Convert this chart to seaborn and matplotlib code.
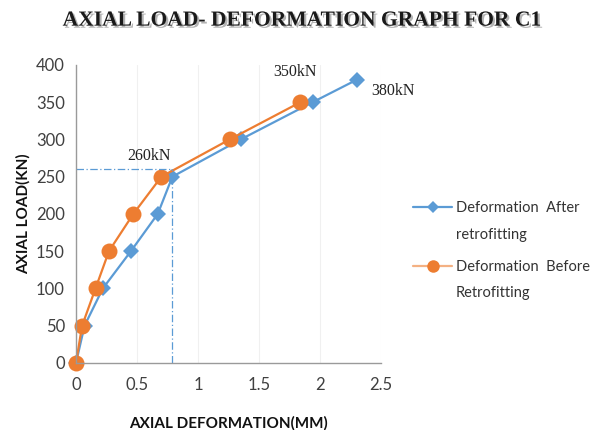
import matplotlib
matplotlib.use("Agg")
import matplotlib.pyplot as plt
import matplotlib.patheffects as pe
import seaborn as sns
import pandas as pd

# Load-deformation readings for column C1
load_after = [0, 50, 100, 150, 200, 250, 300, 350, 380]
defo_after = [0.0, 0.07, 0.22, 0.45, 0.67, 0.79, 1.35, 1.94, 2.30]
load_before = [0, 50, 100, 150, 200, 250, 300, 350]
defo_before = [0.0, 0.05, 0.16, 0.27, 0.47, 0.70, 1.26, 1.84]

label_after = "Deformation  After"
label_before = "Deformation  Before"
label_after_2 = "retrofitting"
label_before_2 = "Retrofitting"

yield_load = 260
yield_defo = 0.79

x_ticks = [0, 0.5, 1, 1.5, 2, 2.5]
x_tick_labels = ["0", "0.5", "1", "1.5", "2", "2.5"]
y_ticks = [0, 50, 100, 150, 200, 250, 300, 350, 400]

blue = "#5b9bd5"
orange = "#ed7d31"

sns.set_theme(style="white")
plt.rcParams["font.family"] = ["Lato", "DejaVu Sans"]

df = pd.concat([
    pd.DataFrame({"defo": defo_after, "load": load_after, "series": label_after}),
    pd.DataFrame({"defo": defo_before, "load": load_before, "series": label_before}),
])

fig = plt.figure(figsize=(6.1, 4.3), dpi=100)
ax = fig.add_axes([0.1246, 0.156, 0.5, 0.693])

sns.lineplot(data=df, x="defo", y="load", hue="series", style="series",
             palette={label_after: blue, label_before: orange},
             markers={label_after: "D", label_before: "o"},
             dashes=False, sort=False, linewidth=1.6, ax=ax,
             markeredgewidth=0)
for line, ms in zip(ax.lines[:2], [8, 11.5]):
    line.set_markersize(ms)

# Yield guide lines
ax.plot([0, yield_defo], [yield_load, yield_load], color=blue, lw=0.9,
        ls=(0, (6, 2, 1, 2)))
ax.plot([yield_defo, yield_defo], [0, yield_load], color=blue, lw=0.9,
        ls=(0, (6, 2, 1, 2)))

serif = ["Liberation Serif", "DejaVu Serif"]
ax.text(0.42, 273, "260kN", family=serif, fontsize=11.5, color="#222222")
ax.text(1.62, 385, "350kN", family=serif, fontsize=11.5, color="#222222")
ax.text(2.42, 360, "380kN", family=serif, fontsize=11.5, color="#222222")

ax.set_xlim(0, 2.5)
ax.set_ylim(0, 400)
ax.set_xticks(x_ticks)
ax.set_xticklabels(x_tick_labels)
ax.set_yticks(y_ticks)
ax.tick_params(axis="both", labelsize=12, colors="#404040", length=0)
ax.tick_params(axis="x", pad=10)
ax.tick_params(axis="y", pad=8)
ax.grid(axis="x", color="#f0f0f0", lw=0.8)
ax.grid(axis="y", visible=False)
for side in ["top", "right"]:
    ax.spines[side].set_visible(False)
for side in ["left", "bottom"]:
    ax.spines[side].set_color("#9a9a9a")
    ax.spines[side].set_linewidth(1.0)
for line in ax.lines:
    line.set_clip_on(False)

ax.set_xlabel("AXIAL DEFORMATION(MM)", fontsize=11, fontweight="bold",
              color="#111111", labelpad=17)
ax.set_ylabel("AXIAL LOAD(KN)", fontsize=11, fontweight="bold",
              color="#111111", labelpad=4)

# Legend: handle sits beside the first line of each two-line entry
handles, labels = ax.get_legend_handles_labels()
ax.get_legend().remove()
leg = fig.legend(handles, labels, loc="center left", bbox_to_anchor=(0.665, 0.4477),
                 frameon=False, fontsize=10.5, handlelength=2.7,
                 labelspacing=3.05, handletextpad=0.25, borderpad=0)
for t in leg.get_texts():
    t.set_color("#333333")
for h, ms in zip(leg.legend_handles, [6, 9]):
    h.set_markersize(ms)
leg.legend_handles[1].set_color("#f4b183")
leg.legend_handles[1].set_markerfacecolor(orange)
leg.legend_handles[1].set_markeredgecolor(orange)

fig.canvas.draw()
renderer = fig.canvas.get_renderer()
inv = fig.transFigure.inverted()
for t, extra in zip(leg.get_texts(), [label_after_2, label_before_2]):
    bb = t.get_window_extent(renderer)
    x0, y0 = inv.transform((bb.x0, bb.y0))
    fig.text(x0, y0 - 0.062, extra, ha="left", va="bottom",
             fontsize=10.5, color="#333333")

fig.text(0.493, 0.952, "AXIAL LOAD- DEFORMATION GRAPH FOR C1",
         ha="center", va="center", family=serif, fontsize=15.5,
         fontweight="bold", color="#1a1a1a",
         path_effects=[pe.withSimplePatchShadow(offset=(1.5, -1.5), alpha=0.3)])

fig.savefig("out.png", dpi=100, facecolor="white")
